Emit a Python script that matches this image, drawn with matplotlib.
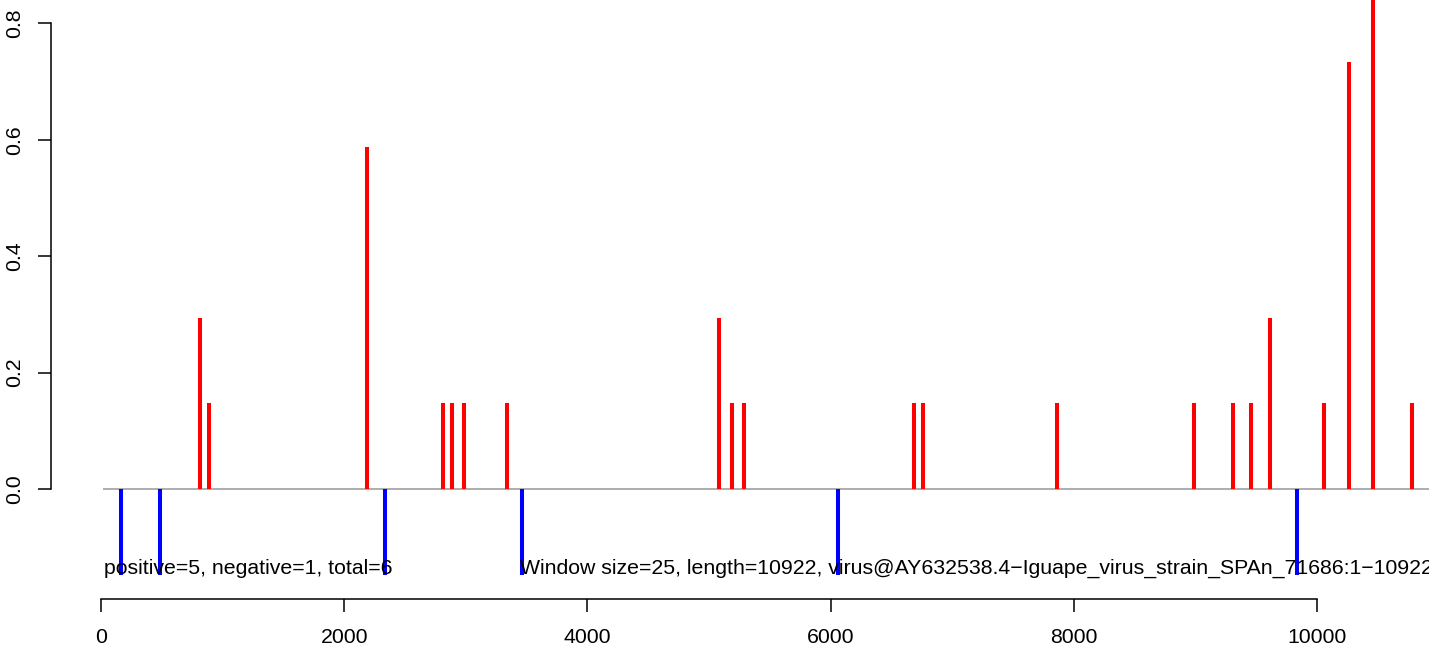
import matplotlib
matplotlib.use("Agg")
import matplotlib.pyplot as plt

plt.rcParams['font.family'] = ['Liberation Sans', 'DejaVu Sans']

# Data
pos_x = [814, 888, 2185, 2812, 2886, 2985, 3337, 5082, 5189, 5288, 6686, 6760,
         7862, 8988, 9309, 9457, 9613, 10058, 10263, 10461, 10781]
pos_y = [0.294, 0.147, 0.587, 0.147, 0.147, 0.147, 0.147, 0.294, 0.147, 0.147,
         0.147, 0.147, 0.147, 0.147, 0.147, 0.147, 0.294, 0.147, 0.734, 0.881, 0.147]
neg_x = [165, 485, 2336, 3462, 6061, 9833]
neg_y = [-0.147, -0.147, -0.147, -0.147, -0.147, -0.147]
x_ticks = [0, 2000, 4000, 6000, 8000, 10000]
y_ticks = [0.0, 0.2, 0.4, 0.6, 0.8]
seq_length = 10922
window = 25
label_left = "positive=5, negative=1, total=6"
label_right = ("Window size=25, length=10922, "
               "virus@AY632538.4\u2212Iguape_virus_strain_SPAn_71686:1\u221210922")

fig = plt.figure(figsize=(14.29, 6.46), dpi=100)
ax = fig.add_axes([0, 0, 1, 1])
ax.set_xlim(-830.6, 10921)
ax.set_ylim(-0.2698, 0.840)

# zero line
ax.hlines(0, 16, seq_length, color='#a0a0a0', lw=1.2, zorder=1)
# bars
ax.vlines(pos_x, 0, pos_y, color='#ff0000', lw=2.9, capstyle='butt', zorder=2)
ax.vlines(neg_x, 0, neg_y, color='#0000ff', lw=2.9, capstyle='butt', zorder=2)

# annotations
ax.text(window, -0.146, label_left, fontsize=15.3, ha='left', va='baseline', zorder=3)
ax.text(3446, -0.146, label_right, fontsize=15.3, ha='left', va='baseline', zorder=3)

# R-style axes
for s in ['top', 'right']:
    ax.spines[s].set_visible(False)
ax.spines['left'].set_position(('data', -413.7))
ax.spines['left'].set_bounds(0, 0.8)
ax.spines['bottom'].set_position(('data', -0.189))
ax.spines['bottom'].set_bounds(0, 10000)
for s in ['left', 'bottom']:
    ax.spines[s].set_linewidth(1.1)

ax.set_xticks(x_ticks)
ax.set_xticklabels([str(t) for t in x_ticks])
ax.set_yticks(y_ticks)
ax.set_yticklabels([f"{t:.1f}" for t in y_ticks], rotation=90, va='center')
ax.tick_params(axis='x', direction='out', length=9.4, width=1.1,
               labelsize=15.3, pad=11.5)
ax.tick_params(axis='y', direction='out', length=9.4, width=1.1,
               labelsize=15.3, pad=10)

fig.savefig("out.png", dpi=100)
